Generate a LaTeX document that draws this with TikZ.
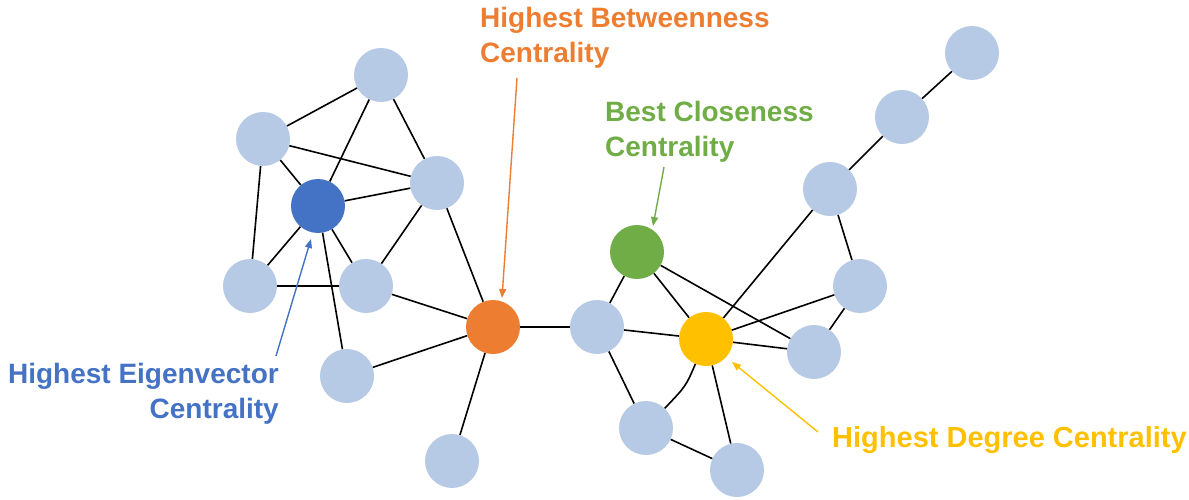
\documentclass[tikz,border=0pt]{standalone}
\usepackage{fontspec}
\setmainfont{Liberation Sans}
\usetikzlibrary{arrows.meta}
\definecolor{nodeblue}{HTML}{B6CAE5}
\definecolor{eigblue}{HTML}{4472C4}
\definecolor{betorange}{HTML}{ED7D31}
\definecolor{closegreen}{HTML}{70AD47}
\definecolor{degyellow}{HTML}{FFC000}
\tikzset{
  vtx/.style={circle,fill=nodeblue,minimum size=54pt,inner sep=0pt},
  edge/.style={draw=black,line width=1.6pt},
  lbl/.style={font=\fontsize{28}{35}\selectfont\bfseries,inner sep=0pt},
  pointer/.style={line width=1.4pt,-{Triangle[length=9pt,width=7pt]}}
}
\begin{document}
\begin{tikzpicture}[x=1pt,y=-1pt]
\useasboundingbox (0,0) rectangle (1189,500);
% nodes
\node[vtx] (A) at (381,75) {};
\node[vtx] (B) at (263,139) {};
\node[vtx,fill=eigblue] (C) at (318,206) {};
\node[vtx] (D) at (437,183) {};
\node[vtx] (E) at (250,286) {};
\node[vtx] (F) at (366,286) {};
\node[vtx] (G) at (347,376) {};
\node[vtx,fill=betorange] (H) at (493,327) {};
\node[vtx] (I) at (452,461) {};
\node[vtx] (J) at (597,327) {};
\node[vtx,fill=closegreen] (K) at (637,252) {};
\node[vtx,fill=degyellow] (L) at (706,339) {};
\node[vtx] (M) at (646,428) {};
\node[vtx] (N) at (737,470) {};
\node[vtx] (O) at (814,352) {};
\node[vtx] (P) at (860,286) {};
\node[vtx] (Q) at (830,189) {};
\node[vtx] (R) at (902,117) {};
\node[vtx] (S) at (972,53) {};
% edges
\path[edge] (A) -- (B);
\path[edge] (A) -- (C);
\path[edge] (A) -- (D);
\path[edge] (B) -- (C);
\path[edge] (B) -- (D);
\path[edge] (B) -- (E);
\path[edge] (C) -- (D);
\path[edge] (C) -- (E);
\path[edge] (C) -- (F);
\path[edge] (C) -- (G);
\path[edge] (D) -- (F);
\path[edge] (D) -- (H);
\path[edge] (E) -- (F);
\path[edge] (F) -- (H);
\path[edge] (G) -- (H);
\path[edge] (H) -- (I);
\path[edge] (H) -- (J);
\path[edge] (J) -- (K);
\path[edge] (J) -- (L);
\path[edge] (J) -- (M);
\path[edge] (K) -- (L);
\path[edge] (K) -- (O);
\path[edge] (L) -- (Q);
\path[edge] (L) -- (P);
\path[edge] (L) -- (O);
\path[edge] (L) .. controls (686,386) .. (M);
\path[edge] (L) -- (N);
\path[edge] (M) -- (N);
\path[edge] (O) -- (P);
\path[edge] (P) -- (Q);
\path[edge] (Q) -- (R);
\path[edge] (R) -- (S);
% labels (base anchor = baseline of last line)
\node[lbl,text=betorange,anchor=base west,align=left] (tB) at (480,63) {Highest Betweenness\\Centrality};
\node[lbl,text=closegreen,anchor=base west,align=left] (tC) at (605,157) {Best Closeness\\Centrality};
\node[lbl,text=eigblue,anchor=base east,align=right] (tE) at (279,418) {Highest Eigenvector\\Centrality};
\node[lbl,text=degyellow,anchor=base west,font=\fontsize{29}{35}\selectfont\bfseries] (tD) at (832,447) {Highest Degree Centrality};
% pointers
\coordinate (bt) at (517,78);  \coordinate (bh) at (502,298);
\coordinate (ct) at (664,167); \coordinate (ch) at (653,226);
\coordinate (et) at (276,356); \coordinate (eh) at (311,239);
\coordinate (dt) at (818,432); \coordinate (dh) at (732,362);
\draw[pointer,betorange] (bt) -- (bh);
\draw[pointer,closegreen] (ct) -- (ch);
\draw[pointer,eigblue] (et) -- (eh);
\draw[pointer,degyellow] (dt) -- (dh);
\end{tikzpicture}
\end{document}
